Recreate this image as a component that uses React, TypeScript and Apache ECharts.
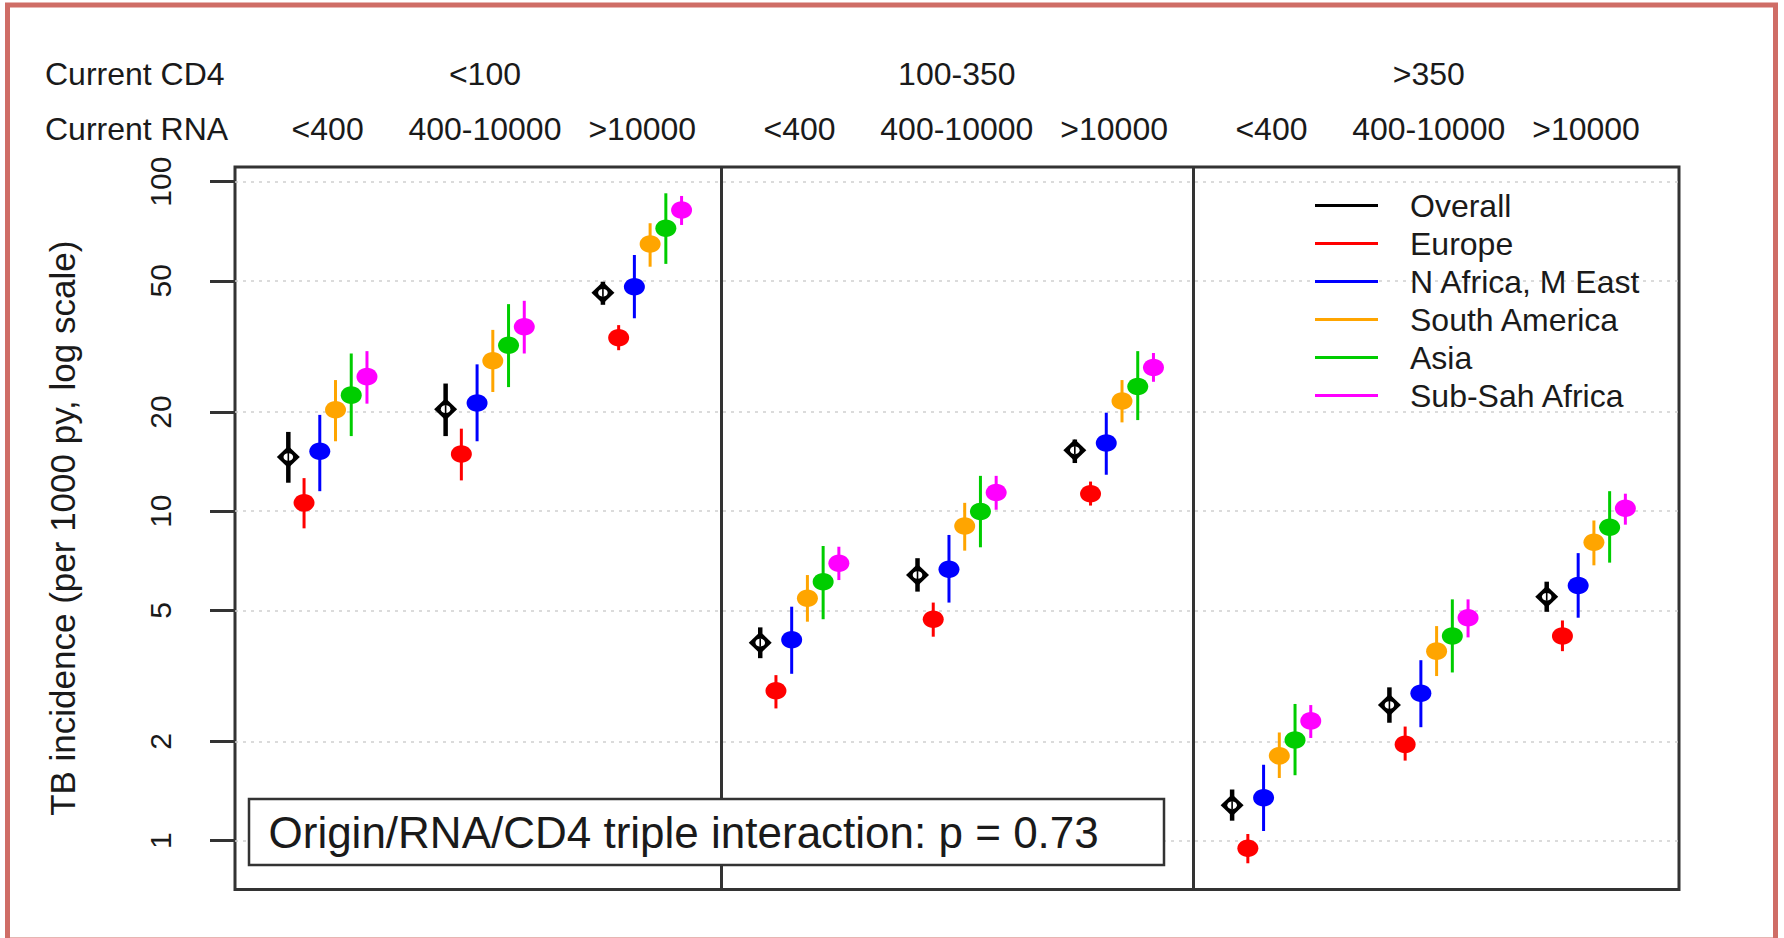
import React, { useEffect, useRef } from "react";
import * as echarts from "echarts";

// ---------- data ----------
const cd4Levels = ["<100", "100-350", ">350"];
const rnaLevels = ["<400", "400-10000", ">10000"];
const regions = ["Overall", "Europe", "N Africa, M East", "South America", "Asia", "Sub-Sah Africa"];
const regionColors = ["#000000", "#ff0000", "#0000ff", "#ffa500", "#00cd00", "#ff00ff"];
const yTicks = [1, 2, 5, 10, 20, 50, 100];
const pValueText = "Origin/RNA/CD4 triple interaction: p = 0.73";

// 9 groups in order: CD4 <100 x RNA(<400, 400-10000, >10000), CD4 100-350 x RNA..., CD4 >350 x RNA...
const overallEst = [14.6, 20.4, 46.0, 3.99, 6.4, 15.3, 1.28, 2.58, 5.5];
const overallLo = [12.2, 16.9, 42.3, 3.58, 5.7, 14.0, 1.15, 2.28, 4.95];
const overallHi = [17.4, 24.4, 49.7, 4.44, 7.2, 16.5, 1.43, 2.92, 6.11];

const europeEst = [10.6, 14.9, 33.6, 2.85, 4.7, 11.3, 0.948, 1.96, 4.18];
const europeLo = [8.87, 12.4, 30.8, 2.52, 4.16, 10.4, 0.854, 1.75, 3.76];
const europeHi = [12.6, 17.8, 36.7, 3.18, 5.28, 12.3, 1.048, 2.22, 4.66];

const nAfricaEst = [15.2, 21.3, 48.0, 4.07, 6.66, 16.1, 1.35, 2.8, 5.95];
const nAfricaLo = [11.5, 16.3, 38.5, 3.21, 5.28, 12.9, 1.07, 2.21, 4.75];
const nAfricaHi = [19.6, 27.9, 59.9, 5.13, 8.47, 19.9, 1.7, 3.53, 7.46];

const sAmericaEst = [20.3, 28.6, 64.7, 5.44, 9.02, 21.6, 1.81, 3.76, 8.05];
const sAmericaLo = [16.3, 23.0, 55.2, 4.62, 7.59, 18.6, 1.55, 3.16, 6.85];
const sAmericaHi = [25.0, 35.5, 74.8, 6.4, 10.6, 25.0, 2.13, 4.48, 9.37];

const asiaEst = [22.5, 31.9, 72.2, 6.11, 9.97, 23.9, 2.02, 4.18, 8.94];
const asiaLo = [16.9, 23.8, 56.3, 4.7, 7.77, 18.9, 1.58, 3.24, 6.98];
const asiaHi = [30.1, 42.5, 92.2, 7.84, 12.8, 30.6, 2.6, 5.4, 11.5];

const subSahEst = [25.6, 36.3, 82.0, 6.95, 11.4, 27.3, 2.31, 4.75, 10.2];
const subSahLo = [21.2, 30.1, 73.9, 6.18, 10.1, 24.7, 2.05, 4.14, 9.1];
const subSahHi = [30.6, 43.5, 90.5, 7.8, 12.8, 30.2, 2.58, 5.4, 11.3];

const estimates = [overallEst, europeEst, nAfricaEst, sAmericaEst, asiaEst, subSahEst];
const lowers = [overallLo, europeLo, nAfricaLo, sAmericaLo, asiaLo, subSahLo];
const uppers = [overallHi, europeHi, nAfricaHi, sAmericaHi, asiaHi, subSahHi];

// ---------- layout helpers ----------
const FONT = "'Liberation Sans', Arial, Helvetica, sans-serif";
const GROUP_STEP = 10; // x units between RNA groups
const groupCount = cd4Levels.length * rnaLevels.length;
const centerOffset = (regions.length - 1) / 2;
const rnaCenters = Array.from({ length: groupCount }, (_, g) => g * GROUP_STEP + centerOffset);
const cd4Centers = cd4Levels.map((_, p) => (p * rnaLevels.length + 1) * GROUP_STEP + centerOffset);
const dividers = cd4Levels
  .slice(1)
  .map((_, p) => (p + 1) * rnaLevels.length * GROUP_STEP - (GROUP_STEP - (regions.length - 1)) / 2);
const X_MIN = -3.39;
const X_MAX = 88.41;

export default function App() {
  const ref = useRef<HTMLDivElement>(null);

  useEffect(() => {
    if (!ref.current) return;
    const chart = echarts.init(ref.current, null, { renderer: "svg" });

    const series: any[] = regions.map((name, r) => {
      const color = regionColors[r];
      const isOverall = r === 0;
      return {
        type: "custom",
        name,
        xAxisIndex: 0,
        yAxisIndex: 0,
        itemStyle: { color },
        encode: { x: 0, y: [1, 2, 3] },
        data: estimates[r].map((v, g) => [g * GROUP_STEP + r, v, lowers[r][g], uppers[r][g]]),
        renderItem: (params: any, api: any) => {
          const x = api.value(0);
          const c = api.coord([x, api.value(1)]);
          const lo = api.coord([x, api.value(2)]);
          const hi = api.coord([x, api.value(3)]);
          const children: any[] = [
            {
              type: "line",
              shape: { x1: lo[0], y1: lo[1], x2: hi[0], y2: hi[1] },
              style: { stroke: color, lineWidth: isOverall ? 4.5 : 3 },
            },
          ];
          if (isOverall) {
            children.push({
              type: "polygon",
              shape: {
                points: [
                  [c[0], c[1] - 11],
                  [c[0] + 11.5, c[1]],
                  [c[0], c[1] + 11],
                  [c[0] - 11.5, c[1]],
                ],
              },
              style: { fill: "#000" },
            });
            children.push({
              type: "ellipse",
              shape: { cx: c[0], cy: c[1], rx: 4.8, ry: 3.8 },
              style: { fill: "#fff" },
            });
            children.push({
              type: "line",
              shape: { x1: c[0], y1: c[1] - 4, x2: c[0], y2: c[1] + 4 },
              style: { stroke: "#000", lineWidth: 1.6 },
            });
          } else {
            children.push({
              type: "ellipse",
              shape: { cx: c[0], cy: c[1], rx: 10.5, ry: 8.8 },
              style: { fill: color },
            });
          }
          return { type: "group", children };
        },
      };
    });

    series.push({
      type: "line",
      name: "__dividers",
      data: [],
      xAxisIndex: 0,
      yAxisIndex: 0,
      markLine: {
        silent: true,
        symbol: ["none", "none"],
        label: { show: false },
        lineStyle: { color: "#333", width: 3, type: "solid" },
        data: dividers.map((v) => ({ xAxis: v })),
      },
    });

    const hiddenX = {
      type: "value",
      min: X_MIN,
      max: X_MAX,
      axisLine: { show: false, onZero: false },
      axisTick: { show: false },
      splitLine: { show: false },
    };

    chart.setOption({
      animation: false,
      backgroundColor: "#ffffff",
      color: regionColors,
      textStyle: { fontFamily: FONT },
      grid: {
        left: 235,
        right: 105,
        top: 167,
        bottom: 48.5,
        show: true,
        borderColor: "#333",
        borderWidth: 3,
        backgroundColor: "transparent",
        containLabel: false,
        outerBoundsMode: "none",
      },
      legend: {
        orient: "vertical",
        left: 1315,
        top: 189.5,
        padding: 0,
        itemGap: 6,
        itemWidth: 63,
        itemHeight: 3,
        icon: "rect",
        selectedMode: false,
        data: regions,
        textStyle: {
          fontSize: 32,
          lineHeight: 31,
          color: "#1a1a1a",
          fontFamily: FONT,
          padding: [0, 0, 0, 27],
        },
      },
      xAxis: [
        { ...hiddenX, axisLabel: { show: false } },
        {
          ...hiddenX,
          position: "top",
          axisLabel: {
            show: true,
            customValues: rnaCenters,
            formatter: (v: number) => rnaLevels[Math.round((v - centerOffset) / GROUP_STEP) % rnaLevels.length],
            margin: 22.5,
            fontSize: 32,
            lineHeight: 31,
            color: "#1a1a1a",
            fontFamily: FONT,
          },
        },
        {
          ...hiddenX,
          position: "top",
          offset: 55,
          axisLabel: {
            show: true,
            customValues: cd4Centers,
            formatter: (v: number) =>
              cd4Levels[Math.round((v - centerOffset - GROUP_STEP) / (GROUP_STEP * rnaLevels.length))],
            margin: 22.5,
            fontSize: 32,
            lineHeight: 31,
            color: "#1a1a1a",
            fontFamily: FONT,
          },
        },
      ],
      yAxis: {
        type: "log",
        logBase: 10,
        min: 0.711,
        max: 110.8,
        name: "TB incidence (per 1000 py, log scale)",
        nameLocation: "middle",
        nameGap: 155,
        nameTextStyle: { fontSize: 35, color: "#1a1a1a", fontFamily: FONT },
        axisLine: { show: false, onZero: false },
        axisTick: {
          show: true,
          inside: false,
          length: 25,
          customValues: yTicks,
          lineStyle: { color: "#333", width: 3 },
        },
        axisLabel: {
          customValues: yTicks,
          rotate: 90,
          margin: 60,
          fontSize: 30,
          lineHeight: 30,
          color: "#1a1a1a",
          fontFamily: FONT,
          formatter: (v: number) => String(parseFloat(Number(v).toPrecision(3))),
        },
        splitLine: {
          show: true,
          lineStyle: { color: "#cfcfcf", type: [3, 5], width: 1.5 },
        },
      },
      graphic: [
        {
          type: "text",
          x: 45,
          y: 74,
          style: {
            text: "Current CD4",
            fontSize: 32,
            fontFamily: FONT,
            fill: "#1a1a1a",
            align: "left",
            verticalAlign: "middle",
          },
        },
        {
          type: "text",
          x: 45,
          y: 129,
          style: {
            text: "Current RNA",
            fontSize: 32,
            fontFamily: FONT,
            fill: "#1a1a1a",
            align: "left",
            verticalAlign: "middle",
          },
        },
        {
          type: "rect",
          z: 100,
          shape: { x: 249, y: 799, width: 915, height: 66 },
          style: { fill: "#ffffff", stroke: "#333", lineWidth: 2.5 },
        },
        {
          type: "text",
          z: 101,
          x: 268.5,
          y: 832.5,
          style: {
            text: pValueText,
            fontSize: 44,
            fontFamily: FONT,
            fill: "#1a1a1a",
            align: "left",
            verticalAlign: "middle",
          },
        },
        {
          type: "rect",
          z: 200,
          silent: true,
          shape: { x: 7.5, y: 5, width: 1768, height: 935 },
          style: { fill: "none", stroke: "#cf6d66", lineWidth: 5 },
        },
      ],
      series,
    });

    return () => {
      chart.dispose();
    };
  }, []);

  return (
    <div
      ref={ref}
      style={{ position: "absolute", left: 0, top: 0, width: 1784, height: 938 }}
    />
  );
}
